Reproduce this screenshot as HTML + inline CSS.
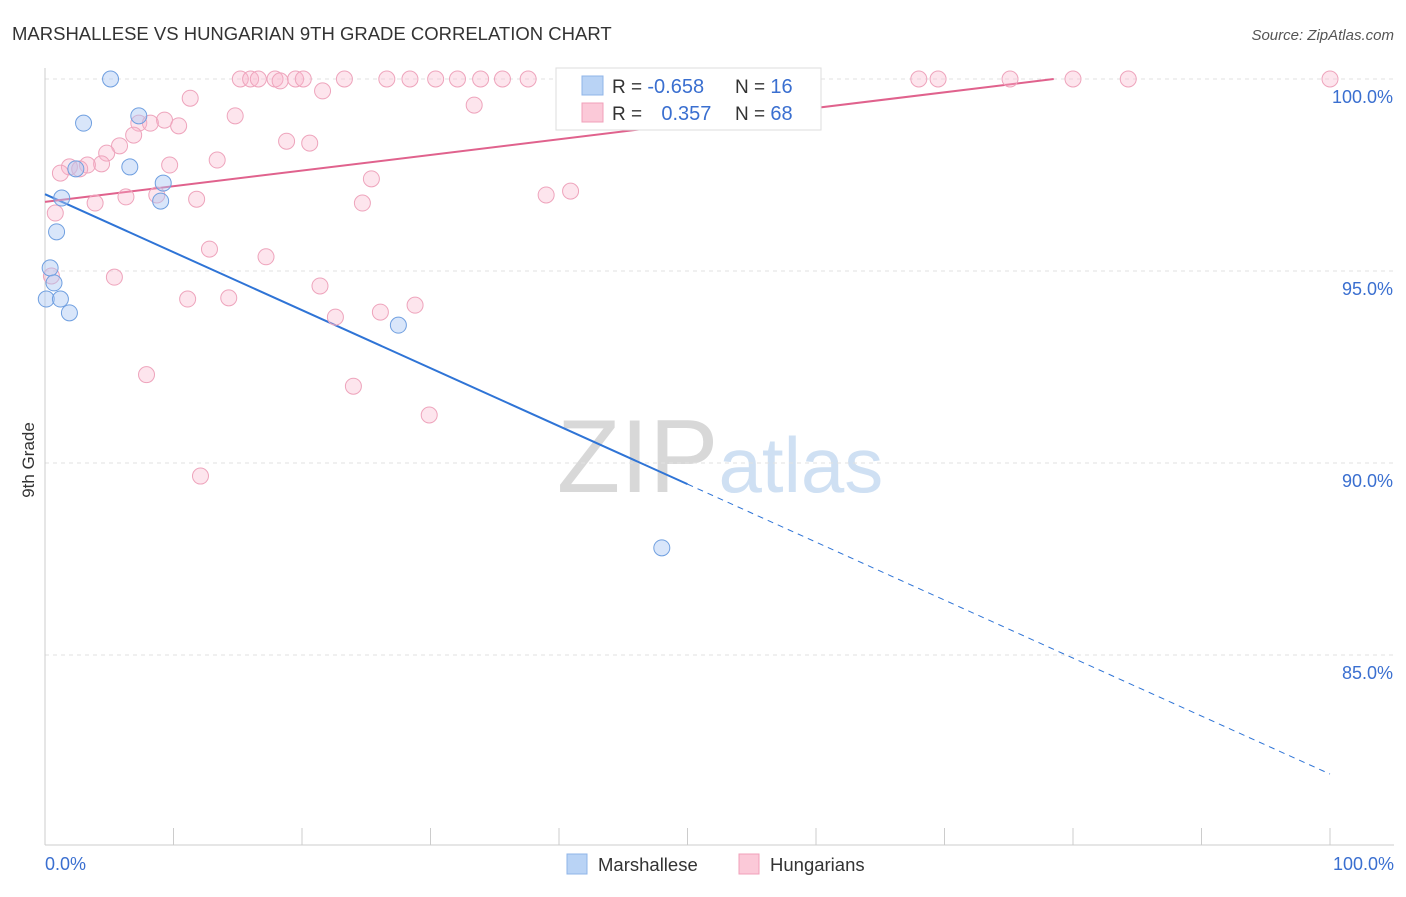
<!DOCTYPE html>
<html><head><meta charset="utf-8"><style>
body{margin:0;background:#fff;font-family:"Liberation Sans",sans-serif}
svg text{font-family:"Liberation Sans",sans-serif}
</style></head><body>
<svg id="chart" width="1406" height="892">
<text x="12" y="40" font-size="18.5" fill="#333">MARSHALLESE VS HUNGARIAN 9TH GRADE CORRELATION CHART</text>
<text x="1394" y="40" font-size="15" fill="#555" text-anchor="end" font-style="italic">Source: ZipAtlas.com</text>
<text x="34" y="460" font-size="17" fill="#333" transform="rotate(-90 34 460)" text-anchor="middle">9th Grade</text>
<text x="720" y="492" font-size="104" fill="#ddd" text-anchor="middle" font-family="Liberation Serif"><tspan fill="#d8d8d8">ZIP</tspan><tspan fill="#cfe0f3" font-family="Liberation Sans" font-size="78">atlas</tspan></text>
<g id="grid"></g><g id="axes"></g><g id="lines"></g><g id="pts"></g>
<g>
<rect x="556" y="68" width="265" height="62" fill="#fff" stroke="#ddd"/>
<rect x="582" y="76" width="21" height="19" fill="#b9d3f5" stroke="#8fb4e8"/>
<rect x="582" y="103" width="21" height="19" fill="#fbc9d8" stroke="#f0a0ba"/>
<text x="612" y="93" font-size="19" fill="#333">R = <tspan fill="#3a6fd0" font-size="20">-0.658</tspan></text>
<text x="735" y="93" font-size="19" fill="#333">N = <tspan fill="#3a6fd0" font-size="20">16</tspan></text>
<text x="612" y="120" font-size="19" fill="#333">R = <tspan fill="#3a6fd0" dx="14" font-size="20">0.357</tspan></text>
<text x="735" y="120" font-size="19" fill="#333">N = <tspan fill="#3a6fd0" font-size="20">68</tspan></text>
</g>
<g>
<rect x="567" y="854" width="20" height="20" fill="#b9d3f5" stroke="#8fb4e8"/>
<text x="598" y="871" font-size="18.5" fill="#333">Marshallese</text>
<rect x="739" y="854" width="20" height="20" fill="#fbc9d8" stroke="#f0a0ba"/>
<text x="770" y="871" font-size="18.5" fill="#333">Hungarians</text>
</g>
</svg>
<script>
const blueX=[5.1,7.3,3.0,6.6,9.2,1.3,9.0,0.9,0.4,0.7,0.1,1.2,1.9,27.5,48.0,2.4];
const blueY=[100,99.04,98.85,97.71,97.29,96.9,96.82,96.02,95.08,94.69,94.27,94.27,93.91,93.59,87.79,97.66];
const pinkX=[15.2,16.0,16.6,17.9,18.3,19.5,20.1,23.3,26.6,28.4,30.4,32.1,33.9,35.6,37.6,51,54,68.0,69.5,75.1,80.0,84.3,100,
11.3,21.6,33.4,14.8,9.3,7.3,8.2,10.4,6.9,5.8,18.8,20.6,4.8,13.4,9.7,4.4,3.3,1.9,2.7,1.2,25.4,39.0,40.9,6.3,8.7,11.8,3.9,24.7,0.8,12.8,17.2,0.5,5.4,21.4,11.1,14.3,28.8,26.1,22.6,7.9,24.0,29.9,12.1];
const pinkY=[100,100,100,100,99.95,100,100,100,100,100,100,100,100,100,100,100,100,100,100,100,100,100,100,
99.5,99.69,99.32,99.04,98.93,98.85,98.85,98.78,98.54,98.26,98.38,98.33,98.07,97.89,97.76,97.79,97.76,97.71,97.66,97.55,97.4,96.98,97.08,96.93,96.98,96.87,96.77,96.77,96.51,95.57,95.37,94.87,94.84,94.61,94.27,94.3,94.11,93.93,93.8,92.3,92.0,91.25,89.66];
const X0=45,X1=1330,Y100=79,PPU=38.4;
const sx=v=>X0+(X1-X0)*v/100, sy=v=>Y100+(100-v)*PPU;
const NS='http://www.w3.org/2000/svg';
function mk(p,t,a){const e=document.createElementNS(NS,t);for(const k in a)e.setAttribute(k,a[k]);document.getElementById(p).appendChild(e);return e;}
const yTicks=[100,95,90,85], yLabels=['100.0%','95.0%','90.0%','85.0%'];
yTicks.forEach((v,i)=>{
 const l=mk('grid','line',{x1:45,x2:1394,y1:sy(v),y2:sy(v),stroke:'#e2e2e2','stroke-dasharray':'4,4'});
 
 
 const t=mk('grid','text',{x:1393,y:sy(v)+24,'font-size':18,fill:'#3a6fd0','text-anchor':'end'});
 t.textContent=yLabels[i];
 
 
});
const ax=mk('axes','line',{x1:45,x2:1394,y1:845,y2:845,stroke:'#ccc'});


const ay=mk('axes','line',{x1:45,x2:45,y1:68,y2:845,stroke:'#ccc'});


for(let i=0;i<=10;i++){const t=mk('axes','line',{x1:sx(i*10),x2:sx(i*10),y1:828,y2:845,stroke:'#ccc'});
 
 }
[['0.0%',45,'start'],['100.0%',1394,'end']].forEach(a=>{const t=mk('axes','text',{x:a[1],y:870,'font-size':18,fill:'#3a6fd0','text-anchor':a[2]});t.textContent=a[0];
 
 });
const bA=97.0,bB=81.9,bEnd=50;
const pA=96.8,pEnd=78.5,pB=100;
let l1=mk('lines','line',{x1:sx(0),y1:sy(bA),x2:sx(bEnd),y2:sy(bA+(bB-bA)*bEnd/100),stroke:'#2f74d6','stroke-width':2});


let l2=mk('lines','line',{x1:sx(bEnd),y1:sy(bA+(bB-bA)*bEnd/100),x2:sx(100),y2:sy(bB),stroke:'#2f74d6','stroke-width':1,'stroke-dasharray':'6,5'});


let l3=mk('lines','line',{x1:sx(0),y1:sy(pA),x2:sx(pEnd),y2:sy(pB),stroke:'#e0628d','stroke-width':2});


pinkX.forEach((x,i)=>{const c=mk('pts','circle',{cx:sx(x),cy:sy(pinkY[i]),r:8,fill:'rgba(248,180,202,0.35)',stroke:'#eea4bc','stroke-width':1});
 
 });
blueX.forEach((x,i)=>{const c=mk('pts','circle',{cx:sx(x),cy:sy(blueY[i]),r:8,fill:'rgba(170,200,245,0.45)',stroke:'#6f9fe0','stroke-width':1});
 
 });
</script>
</body></html>
